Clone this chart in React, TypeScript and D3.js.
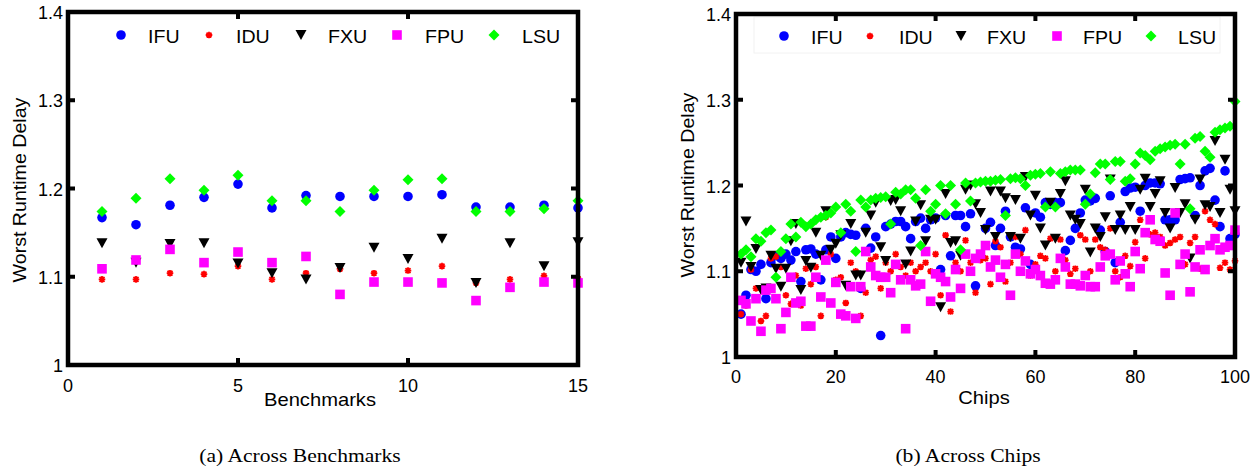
import React from "react";
import * as d3 from "d3";

// ---------- Data ----------
const seriesNames = ["IFU", "IDU", "FXU", "FPU", "LSU"];
const seriesColors = ["#0000ff", "#ff0000", "#000000", "#ff00ff", "#00ff00"];
const yTicks = [1, 1.1, 1.2, 1.3, 1.4];
const yTickLabels = ["1", "1.1", "1.2", "1.3", "1.4"];

// (a) Across Benchmarks
const benchmarks = [1, 2, 3, 4, 5, 6, 7, 8, 9, 10, 11, 12, 13, 14, 15];
const benchTicks = [0, 5, 10, 15];
const benchIFU = [1.167, 1.159, 1.181, 1.19, 1.205, 1.178, 1.192, 1.191, 1.191, 1.191, 1.193, 1.179, 1.179, 1.181, 1.178];
const benchIDU = [1.097, 1.097, 1.104, 1.103, 1.112, 1.097, 1.104, 1.109, 1.104, 1.107, 1.112, 1.093, 1.097, 1.101, 1.098];
const benchFXU = [1.138, 1.116, 1.137, 1.138, 1.115, 1.104, 1.097, 1.11, 1.133, 1.12, 1.143, 1.093, 1.138, 1.112, 1.139];
const benchFPU = [1.109, 1.119, 1.131, 1.116, 1.128, 1.116, 1.123, 1.08, 1.094, 1.094, 1.093, 1.073, 1.088, 1.094, 1.093];
const benchLSU = [1.174, 1.189, 1.211, 1.198, 1.215, 1.186, 1.186, 1.174, 1.198, 1.21, 1.211, 1.174, 1.174, 1.177, 1.186];

// (b) Across Chips
const chips = d3.range(1, 101);
const chipTicks = [0, 20, 40, 60, 80, 100];
const chipIFU = [
  1.05, 1.072, 1.102, 1.1, 1.108, 1.068, 1.11, 1.118, 1.115, 1.12,
  1.113, 1.123, 1.088, 1.125, 1.126, 1.12, 1.09, 1.125, 1.14, 1.115,
  1.14, 1.145, 1.143, 1.142, 1.08, 1.15, 1.127, 1.14, 1.025, 1.152,
  1.155, 1.158, 1.158, 1.152, 1.138, 1.158, 1.162, 1.15, 1.16, 1.162,
  1.102, 1.165, 1.118, 1.165, 1.165, 1.152, 1.167, 1.083, 1.118, 1.15,
  1.157, 1.13, 1.15, 1.17, 1.14, 1.128, 1.126, 1.174, 1.108, 1.168,
  1.163, 1.18, 1.178, 1.18, 1.18, 1.124, 1.136, 1.15, 1.168, 1.183,
  1.182, 1.185, 1.148, 1.123, 1.188, 1.11, 1.157, 1.193, 1.197, 1.198,
  1.17, 1.2, 1.203, 1.203, 1.202, 1.16, 1.16, 1.16, 1.207, 1.208,
  1.209, 1.165, 1.2, 1.217, 1.22, 1.183, 1.152, 1.217, 1.138, 1.143,
];
const chipIDU = [
  1.05, 1.06, 1.102, 1.08, 1.042, 1.048, 1.115, 1.117, 1.105, 1.072,
  1.062, 1.095, 1.06, 1.103, 1.085, 1.105, 1.048, 1.163, 1.12, 1.09,
  1.093, 1.063, 1.11, 1.1, 1.048, 1.075, 1.113, 1.117, 1.08, 1.11,
  1.1, 1.12, 1.105, 1.095, 1.11, 1.1, 1.105, 1.11, 1.1, 1.12,
  1.072, 1.142, 1.053, 1.11, 1.1, 1.136, 1.11, 1.075, 1.113, 1.115,
  1.085, 1.135, 1.128, 1.088, 1.11, 1.14, 1.12, 1.148, 1.095, 1.108,
  1.118, 1.115, 1.138, 1.1, 1.137, 1.113, 1.097, 1.103, 1.142, 1.137,
  1.1, 1.137, 1.128, 1.125, 1.15, 1.1, 1.093, 1.118, 1.106, 1.134,
  1.16, 1.115, 1.143, 1.145, 1.14, 1.13, 1.133, 1.137, 1.14, 1.108,
  1.133, 1.14, 1.103, 1.17, 1.16, 1.155, 1.104, 1.11, 1.102, 1.112,
];
const chipFXU = [
  1.11, 1.158, 1.105, 1.126, 1.078, 1.08, 1.118, 1.103, 1.082, 1.103,
  1.135, 1.155, 1.078, 1.112, 1.104, 1.145, 1.118, 1.17, 1.125, 1.132,
  1.142, 1.083, 1.155, 1.095, 1.095, 1.145, 1.165, 1.18, 1.128, 1.112,
  1.182, 1.183, 1.17, 1.108, 1.123, 1.158, 1.177, 1.135, 1.16, 1.16,
  1.058, 1.19, 1.133, 1.135, 1.118, 1.195, 1.2, 1.178, 1.168, 1.148,
  1.193, 1.14, 1.193, 1.185, 1.14, 1.183, 1.138, 1.21, 1.165, 1.188,
  1.15, 1.13, 1.18, 1.138, 1.19, 1.205, 1.165, 1.16, 1.155, 1.195,
  1.122, 1.15, 1.14, 1.163, 1.207, 1.148, 1.165, 1.148, 1.175, 1.148,
  1.195, 1.208, 1.175, 1.19, 1.205, 1.168, 1.15, 1.197, 1.168, 1.178,
  1.115, 1.16, 1.207, 1.177, 1.175, 1.252, 1.168, 1.23, 1.195, 1.17,
];
const chipFPU = [
  1.066, 1.062, 1.042, 1.068, 1.03, 1.078, 1.08, 1.068, 1.033, 1.052,
  1.093, 1.063, 1.065, 1.036, 1.036, 1.093, 1.07, 1.113, 1.063, 1.087,
  1.05, 1.048, 1.082, 1.045, 1.082, 1.123, 1.105, 1.095, 1.093, 1.093,
  1.075, 1.108, 1.09, 1.033, 1.09, 1.083, 1.085, 1.123, 1.065, 1.097,
  1.093, 1.088, 1.07, 1.102, 1.08, 1.12, 1.1, 1.115, 1.12, 1.13,
  1.105, 1.113, 1.093, 1.108, 1.072, 1.12, 1.1, 1.112, 1.097, 1.102,
  1.095, 1.086, 1.085, 1.09, 1.115, 1.105, 1.085, 1.085, 1.083, 1.095,
  1.082, 1.082, 1.105, 1.118, 1.12, 1.09, 1.112, 1.097, 1.082, 1.123,
  1.103, 1.145, 1.16, 1.137, 1.135, 1.098, 1.072, 1.168, 1.108, 1.12,
  1.076, 1.105, 1.125, 1.102, 1.13, 1.138, 1.125, 1.128, 1.13, 1.148,
];
const chipLSU = [
  1.12, 1.125, 1.117, 1.138, 1.135, 1.145, 1.148, 1.093, 1.123, 1.138,
  1.155, 1.14, 1.157, 1.152, 1.155, 1.16, 1.163, 1.165, 1.168, 1.175,
  1.145, 1.178, 1.17, 1.123, 1.183, 1.175, 1.183, 1.185, 1.186, 1.187,
  1.155, 1.192, 1.19, 1.195, 1.195, 1.185, 1.13, 1.195, 1.17, 1.178,
  1.2, 1.167, 1.2, 1.178, 1.125, 1.203, 1.182, 1.203, 1.204, 1.205,
  1.205, 1.206, 1.207, 1.165, 1.208, 1.209, 1.208, 1.2, 1.212, 1.213,
  1.214, 1.175, 1.216, 1.175, 1.214, 1.216, 1.218, 1.218, 1.218, 1.178,
  1.19, 1.215, 1.225, 1.225, 1.207, 1.228, 1.228, 1.205, 1.208, 1.225,
  1.238, 1.235, 1.23, 1.24, 1.243, 1.245, 1.247, 1.248, 1.225, 1.248,
  1.173, 1.255, 1.257, 1.24, 1.233, 1.262, 1.265, 1.267, 1.269, 1.298,
];

// ---------- Rendering ----------
const SANS = "'Liberation Sans', Arial, Helvetica, sans-serif";
const SERIF = "'Liberation Serif', 'Times New Roman', serif";
const WORD_SCALE = 1.09;
const FRAME_W = 4.5;

type Geo = { left: number; right: number; top: number; bottom: number };

function Marker({ kind, x, y }: { kind: number; x: number; y: number }) {
  const c = seriesColors[kind];
  if (kind === 0) return <circle cx={x} cy={y} r={4.8} fill={c} />;
  if (kind === 1) {
    const s = 3.3;
    const d = s * 0.75;
    return (
      <path
        d={`M${x - s},${y}L${x + s},${y}M${x},${y - s}L${x},${y + s}M${x - d},${y - d}L${x + d},${y + d}M${x - d},${y + d}L${x + d},${y - d}`}
        stroke={c}
        strokeWidth={1.8}
        fill="none"
      />
    );
  }
  if (kind === 2) {
    const w = 5.5, h = 5;
    return <path d={`M${x - w},${y - h}L${x + w},${y - h}L${x},${y + h}Z`} fill={c} />;
  }
  if (kind === 3) return <rect x={x - 4.8} y={y - 4.8} width={9.6} height={9.6} fill={c} />;
  const r = 5.5;
  return <path d={`M${x},${y - r}L${x + r},${y}L${x},${y + r}L${x - r},${y}Z`} fill={c} />;
}

function Panel(props: {
  geo: Geo;
  xDomain: [number, number];
  xTicks: number[];
  xs: number[];
  ys: number[][];
  xLabel: string;
  xLabelPos: [number, number];
  xTickY: number;
  yLabelPos: [number, number];
  legendMarkers: number[];
  legendTexts: number[];
  legendY: number;
  legendBox?: [number, number, number, number];
  caption: string;
  captionX: number;
}) {
  const { geo } = props;
  const x = d3.scaleLinear().domain(props.xDomain).range([geo.left, geo.right]);
  const y = d3.scaleLinear().domain([1, 1.4]).range([geo.bottom, geo.top]);
  const tl = 7;
  const W = geo.right - geo.left;
  const H = geo.bottom - geo.top;
  return (
    <g>
      {props.legendBox && (
        <rect
          x={props.legendBox[0]}
          y={props.legendBox[1]}
          width={props.legendBox[2]}
          height={props.legendBox[3]}
          fill="none"
          stroke="#f2f2f2"
          strokeWidth={1}
        />
      )}
      {/* data */}
      {props.ys.map((vals, k) => (
        <g key={k}>
          {vals.map((v, i) => (
            <Marker key={i} kind={k} x={x(props.xs[i])} y={y(v)} />
          ))}
        </g>
      ))}
      {/* frame */}
      <path
        d={`M${geo.left},${geo.top}H${geo.left + W}V${geo.top + H}H${geo.left}Z`}
        fill="none"
        stroke="#000"
        strokeWidth={FRAME_W}
        strokeLinejoin="miter"
      />
      {/* ticks */}
      {props.xTicks.map((t) => (
        <g key={"xt" + t}>
          <rect x={x(t) - 2} y={geo.bottom - tl} width={4} height={tl} fill="#000" />
          <rect x={x(t) - 2} y={geo.top} width={4} height={tl} fill="#000" />
          <text x={x(t)} y={props.xTickY} textAnchor="middle" dominantBaseline="central" fontFamily={SANS} fontSize={18}>
            {t}
          </text>
        </g>
      ))}
      {yTicks.map((t, i) => (
        <g key={"yt" + t}>
          <rect x={geo.left} y={y(t) - 2} width={tl} height={4} fill="#000" />
          <rect x={geo.right - tl} y={y(t) - 2} width={tl} height={4} fill="#000" />
          <text x={geo.left - 5} y={y(t) + 1} textAnchor="end" dominantBaseline="central" fontFamily={SANS} fontSize={18}>
            {yTickLabels[i]}
          </text>
        </g>
      ))}
      {/* legend */}
      {seriesNames.map((n, k) => (
        <g key={"lg" + n}>
          <Marker kind={k} x={props.legendMarkers[k]} y={props.legendY} />
          <text
            transform={`translate(${props.legendTexts[k]},${props.legendY + 2}) scale(${WORD_SCALE},1)`}
            dominantBaseline="central"
            fontFamily={SANS}
            fontSize={18}
          >
            {n}
          </text>
        </g>
      ))}
      {/* axis labels */}
      <text
        transform={`translate(${props.xLabelPos[0]},${props.xLabelPos[1]}) scale(${WORD_SCALE + 0.03},1)`}
        textAnchor="middle"
        dominantBaseline="central"
        fontFamily={SANS}
        fontSize={18}
      >
        {props.xLabel}
      </text>
      <text
        transform={`translate(${props.yLabelPos[0]},${props.yLabelPos[1]}) rotate(-90) scale(${WORD_SCALE},1)`}
        textAnchor="middle"
        dominantBaseline="central"
        fontFamily={SANS}
        fontSize={18}
      >
        Worst Runtime Delay
      </text>
      <text
        transform={`translate(${props.captionX},456) scale(1.2,1)`}
        textAnchor="middle"
        dominantBaseline="central"
        fontFamily={SERIF}
        fontSize={18}
      >
        {props.caption}
      </text>
    </g>
  );
}

export default function App() {
  return (
    <svg
      width={1260}
      height={469}
      style={{ position: "absolute", left: 0, top: 0, background: "#fff" }}
    >
      <rect x={0} y={0} width={1260} height={469} fill="#fff" />
      <Panel
        geo={{ left: 68, right: 578, top: 12, bottom: 365 }}
        xDomain={[0, 15]}
        xTicks={benchTicks}
        xs={benchmarks}
        ys={[benchIFU, benchIDU, benchFXU, benchFPU, benchLSU]}
        xLabel="Benchmarks"
        xLabelPos={[320, 400]}
        xTickY={386}
        yLabelPos={[20, 190]}
        legendMarkers={[121, 209, 301, 397, 494]}
        legendTexts={[148, 236, 328, 425, 522]}
        legendY={35}
        caption="(a) Across Benchmarks"
        captionX={300}
      />
      <Panel
        geo={{ left: 736, right: 1235, top: 14, bottom: 357 }}
        xDomain={[0, 100]}
        xTicks={chipTicks}
        xs={chips}
        ys={[chipIFU, chipIDU, chipFXU, chipFPU, chipLSU]}
        xLabel="Chips"
        xLabelPos={[984, 398]}
        xTickY={377}
        yLabelPos={[688, 185]}
        legendMarkers={[784, 870, 961, 1057, 1151]}
        legendTexts={[811, 899, 987, 1083, 1178]}
        legendY={36}
        legendBox={[754, 17, 466, 36]}
        caption="(b) Across Chips"
        captionX={968}
      />
    </svg>
  );
}
